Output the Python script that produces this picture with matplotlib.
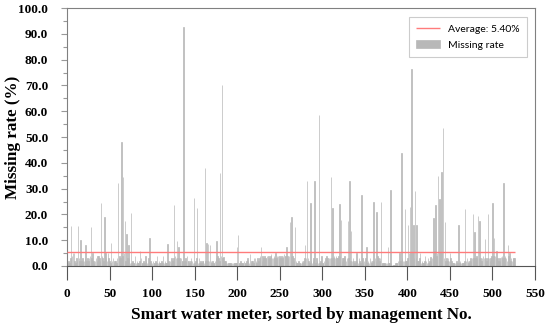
import numpy as np
import matplotlib; matplotlib.use("Agg"); import matplotlib.pyplot as plt
from matplotlib.ticker import MultipleLocator, FormatStrFormatter

# baseline missing rate (%) for meters 0..526, rows of 25
base = [
 0.5,1,2,1,3,2,4,5,3,2,1,3,2,4,3,2,1,2,3,2,2,3,1,2,3,
 2,3,4,2,3,5,2,1,2,3,2,4,4,3,2,3,4,3,2,4,5,3,2,4,3,
 2,1,3,2,3,1,2,2,1,3,2,3,4,3,5,4,3,5,4,2,3,3,2,3,1,
 2,1,2,1,1,4,1,2,1,1,2,1,3,1,1,2,1,1,2,1,1,3,1,2,1,
 1,2,1,1,2,1,3,1,2,1,1,2,1,3,1,2,1,1,3,2,1,2,1,3,2,
 3,2,4,3,2,3,2,3,2,3,2,2,1,2,3,2,3,2,2,1,2,3,2,1,2,
 1,2,3,2,1,3,1,2,1,2,2,1,3,2,3,2,3,2,3,2,1,2,1,1,2,
 3,2,4,3,2,3,4,2,3,3,2,2,1,1,1,1,1,1,1,1,1,1,1,1,1,
 2,3,1,1,2,1,1,1,2,1,1,2,3,2,1,3,1,2,2,1,2,3,2,1,3,
 2,3,4,3,2,4,3,4,3,3,4,3,4,3,4,4,3,3,4,3,4,3,4,4,3,
 4,3,4,3,4,3,4,4,3,4,3,4,5,4,3,4,3,2,3,2,1,1,2,1,1,
 1,2,1,2,3,4,3,2,3,2,1,3,2,1,2,3,2,1,3,2,1,2,1,2,1,
 1,1,2,1,3,4,3,2,3,3,4,3,4,3,4,3,4,3,3,4,3,4,3,2,3,
 3,4,3,2,3,4,3,2,2,3,2,3,2,1,2,3,2,1,3,2,1,2,3,1,2,
 1,3,2,1,2,1,3,2,1,2,3,2,3,2,3,4,3,2,3,2,1,1,1,1,1,
 1,1,1,1,1,1,1,0.5,0.5,0.5,0.5,1,1,1,2,2,1,2,2,3,2,2,3,2,2,
 3,4,5,4,5,4,5,4,3,4,3,3,2,2,3,2,1,2,1,1,2,1,2,1,3,
 1,2,1,2,3,4,5,6,5,4,5,4,5,4,5,4,5,4,3,2,2,3,2,3,2,
 2,3,2,1,1,1,1,1,2,1,2,1,2,1,1,1,1,2,1,2,3,2,1,2,3,
 2,3,2,3,4,3,4,3,4,3,4,3,2,3,4,3,2,3,2,3,4,3,2,3,4,
 3,4,3,4,3,2,3,2,3,2,3,4,3,2,3,4,3,2,3,4,3,2,3,2,3,
 2,3,
]
# peaks
spike_idx = [5,8,13,16,22,28,30,37,40,44,48,52,60,64,66,68,70,72,75,80,86,92,97,106,113,118,
             126,129,131,137,141,149,153,162,164,166,168,176,180,182,184,200,201,215,220,228,
             240,245,250,255,258,262,264,268,280,282,286,291,296,299,310,312,320,322,330,332,
             334,340,346,352,360,364,369,377,380,391,393,397,401,403,405,407,409,411,415,421,
             427,431,433,436,438,440,442,444,450,460,468,477,479,483,485,491,495,500,502,505,
             510,513,518,520,525]
spike_val = [15.5,5,15.5,10,8,15,5,4,24.5,19,5,9,32,48,34.5,17.5,12.5,8,20.5,4,6,4,11,4,4,8.5,
             23.5,9.5,7.5,92.5,4,26.5,22.5,38,9,8.5,8,9.5,36,70,3.5,7.5,12,4.5,3,7.5,
             4.5,5,4,4.5,7.5,17,19,15,8,33,24.5,33,58.5,4,34.5,22.5,24,18,17.5,33,
             13.5,5,27.5,7.5,25,21,25,7.5,29.5,5,44,22,16,23,76.5,16,29,16,5,4,
             3.5,18.5,23.5,35,26,36.5,53.5,17,5,16,22,20,13,19.5,17.5,10.5,20,24.5,11,6,
             3.5,32,8,5,3]
average = 5.40

rate = np.array(base, dtype=float)
for i, v in zip(spike_idx, spike_val):
    rate[i] = max(rate[i], v)
meters = np.arange(len(rate))

fig = plt.figure(figsize=(5.5, 3.23), dpi=100)
ax = fig.add_axes([0.1218, 0.1765, 0.8509, 0.7985])
ax.hlines(average, 0, len(rate), colors="#ff7b7b", lw=1.0, zorder=3, label=f"Average: {average:.2f}%")
ax.bar(meters, rate, width=0.6, color="#b8b8b8", edgecolor="#b8b8b8", linewidth=0.5,
       label="Missing rate", zorder=2)

ax.set_xlim(0, 550); ax.set_ylim(0, 100)
ax.xaxis.set_major_locator(MultipleLocator(50))
ax.yaxis.set_major_locator(MultipleLocator(10))
ax.yaxis.set_minor_locator(MultipleLocator(5))
ax.yaxis.set_major_formatter(FormatStrFormatter("%.1f"))
ax.tick_params(axis="x", length=10, width=0.8, color="#555555", pad=6)
ax.tick_params(axis="y", which="major", length=4.5, width=0.8, color="#999999", pad=9)
ax.tick_params(axis="y", which="minor", length=3, width=0.8, color="#999999")
for s in ax.spines.values():
    s.set_color("#808080"); s.set_linewidth(0.8)
ax.spines["bottom"].set_color("#555555")

serif = ["Liberation Serif", "DejaVu Serif"]
for lab in ax.get_xticklabels() + ax.get_yticklabels():
    lab.set_family(serif); lab.set_fontweight("bold"); lab.set_fontsize(9.5)
ax.set_xlabel("Smart water meter, sorted by management No.", family=serif, fontweight="bold", fontsize=12.3, labelpad=5)
ax.set_ylabel("Missing rate (%)", family=serif, fontweight="bold", fontsize=12.3)
ax.yaxis.set_label_coords(-0.099, 0.5)

leg = ax.legend(loc="upper right", prop={"family": "Lato", "size": 7.5}, bbox_to_anchor=(0.993, 0.985),
                fancybox=False, edgecolor="#cccccc", framealpha=1, borderpad=0.7,
                handlelength=2.3, handleheight=0.85, labelspacing=0.55, handletextpad=0.7)
leg.get_frame().set_linewidth(0.8)

fig.savefig("out.png", dpi=100)
